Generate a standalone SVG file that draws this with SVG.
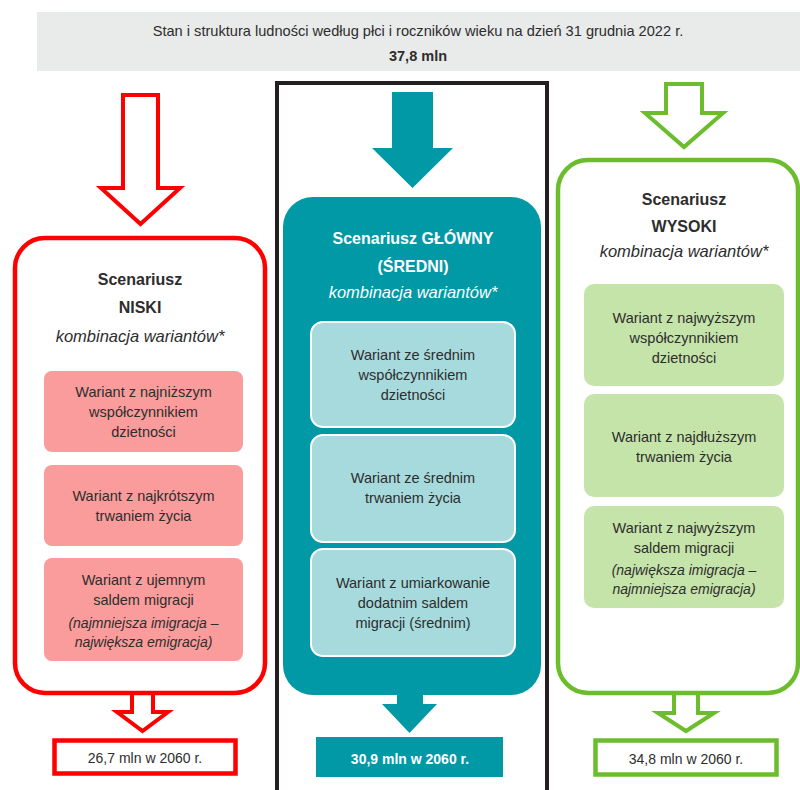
<svg xmlns="http://www.w3.org/2000/svg" width="800" height="790" viewBox="0 0 800 790">
<style>
text{font-family:"Liberation Sans","Open Sans",Arial,sans-serif;fill:#2d2d2d;text-anchor:middle}
.hdr{font-size:14.6px}
.hdrb{font-size:14.5px;font-weight:bold}
.ttl{font-size:16px;font-weight:bold}
.itl{font-size:16.5px;font-style:italic}
.var{font-size:14.5px}
.vari{font-size:14px;font-style:italic}
.res{font-size:14px}
.w{fill:#ffffff}
.redS{fill:none;stroke:#ff0000;stroke-width:4.5}
.grnS{fill:none;stroke:#6cbd2d;stroke-width:4.5}
.redA{fill:#ffffff;stroke:#ff0000;stroke-width:4}
.grnA{fill:#ffffff;stroke:#6cbd2d;stroke-width:4}
.teal{fill:#0099a5}
.pinkV{fill:#fa9c9b}
.tealV{fill:#a7dadd;stroke:#ffffff;stroke-width:2}
.grnV{fill:#c5e4aa}
</style>

<g id="header">
  <rect x="37" y="12" width="763" height="59" fill="#e9eaea"/>
  <text class="hdr" x="418" y="36">Stan i struktura ludności według płci i roczników wieku na dzień 31 grudnia 2022 r.</text>
  <text class="hdrb" x="418" y="61">37,8 mln</text>
</g>

<g id="frame">
  <rect x="277" y="83" width="270" height="720" fill="none" stroke="#231f20" stroke-width="4"/>
</g>

<g id="connectors">
  <path class="redA" d="M123,95 H158 V188 H180 L140.5,224 L101,188 H123 Z"/>
  <path class="teal" d="M392,92 H433 V148 H453 L412.5,188 L372,148 H392 Z"/>
  <path class="grnA" d="M666,84 H702 V113 H723 L684,147 L645,113 H666 Z"/>
  <path class="redA" d="M132,693 H153 V712 H168 L142.5,731 L117,712 H132 Z"/>
  <path class="teal" d="M397,695 H423 V704 H437 L409.5,733 L382,704 H397 Z"/>
  <path class="grnA" d="M674,693 H698 V713 H714 L686,731 L658,713 H674 Z"/>
</g>

<g id="niski">
  <rect class="redS" x="15" y="238" width="250" height="455" rx="30"/>
  <text class="ttl" x="140" y="285">Scenariusz</text>
  <text class="ttl" x="140" y="313">NISKI</text>
  <text class="itl" x="140" y="342">kombinacja wariantów*</text>
  <g id="niski-v1">
    <rect class="pinkV" x="44" y="371" width="199" height="81" rx="8"/>
    <text class="var" x="143.5" y="397">Wariant z najniższym</text>
    <text class="var" x="143.5" y="417">współczynnikiem</text>
    <text class="var" x="143.5" y="437">dzietności</text>
  </g>
  <g id="niski-v2">
    <rect class="pinkV" x="44" y="465" width="199" height="81" rx="8"/>
    <text class="var" x="143.5" y="501">Wariant z najkrótszym</text>
    <text class="var" x="143.5" y="521">trwaniem życia</text>
  </g>
  <g id="niski-v3">
    <rect class="pinkV" x="44" y="558" width="199" height="103" rx="8"/>
    <text class="var" x="143.5" y="585">Wariant z ujemnym</text>
    <text class="var" x="143.5" y="605">saldem migracji</text>
    <text class="vari" x="143.5" y="628">(najmniejsza imigracja –</text>
    <text class="vari" x="143.5" y="647">największa emigracja)</text>
  </g>
</g>

<g id="glowny">
  <rect class="teal" x="283" y="197" width="258" height="498" rx="30"/>
  <text class="ttl w" x="413" y="244">Scenariusz GŁÓWNY</text>
  <text class="ttl w" x="413" y="272">(ŚREDNI)</text>
  <text class="itl w" x="413" y="298">kombinacja wariantów*</text>
  <g id="glowny-v1">
    <rect class="tealV" x="311" y="322" width="204" height="105" rx="12"/>
    <text class="var" x="413" y="360">Wariant ze średnim</text>
    <text class="var" x="413" y="380">współczynnikiem</text>
    <text class="var" x="413" y="400">dzietności</text>
  </g>
  <g id="glowny-v2">
    <rect class="tealV" x="311" y="435" width="204" height="107" rx="12"/>
    <text class="var" x="413" y="483">Wariant ze średnim</text>
    <text class="var" x="413" y="503">trwaniem życia</text>
  </g>
  <g id="glowny-v3">
    <rect class="tealV" x="311" y="549" width="204" height="107" rx="12"/>
    <text class="var" x="413" y="588">Wariant z umiarkowanie</text>
    <text class="var" x="413" y="608">dodatnim saldem</text>
    <text class="var" x="413" y="628">migracji (średnim)</text>
  </g>
</g>

<g id="wysoki">
  <rect class="grnS" x="558" y="160" width="240" height="533" rx="30"/>
  <text class="ttl" x="684" y="205">Scenariusz</text>
  <text class="ttl" x="684" y="232">WYSOKI</text>
  <text class="itl" x="684" y="257">kombinacja wariantów*</text>
  <g id="wysoki-v1">
    <rect class="grnV" x="584" y="284" width="200" height="102" rx="10"/>
    <text class="var" x="684" y="323">Wariant z najwyższym</text>
    <text class="var" x="684" y="343">współczynnikiem</text>
    <text class="var" x="684" y="363">dzietności</text>
  </g>
  <g id="wysoki-v2">
    <rect class="grnV" x="584" y="394" width="200" height="103" rx="10"/>
    <text class="var" x="684" y="442">Wariant z najdłuższym</text>
    <text class="var" x="684" y="462">trwaniem życia</text>
  </g>
  <g id="wysoki-v3">
    <rect class="grnV" x="584" y="506" width="200" height="102" rx="10"/>
    <text class="var" x="684" y="533">Wariant z najwyższym</text>
    <text class="var" x="684" y="553">saldem migracji</text>
    <text class="vari" x="684" y="575">(największa imigracja –</text>
    <text class="vari" x="684" y="594">najmniejsza emigracja)</text>
  </g>
</g>

<g id="result-niski">
  <rect class="redS" x="54.5" y="740.5" width="181" height="33" stroke-width="5"/>
  <text class="res" x="145" y="763">26,7 mln w 2060 r.</text>
</g>
<g id="result-glowny">
  <rect class="teal" x="316" y="737" width="187" height="40"/>
  <text class="res w" x="410" y="764" font-weight="bold">30,9 mln w 2060 r.</text>
</g>
<g id="result-wysoki">
  <rect class="grnS" x="595.5" y="740.5" width="181" height="34" stroke-width="5"/>
  <text class="res" x="686" y="764">34,8 mln w 2060 r.</text>
</g>
</svg>
